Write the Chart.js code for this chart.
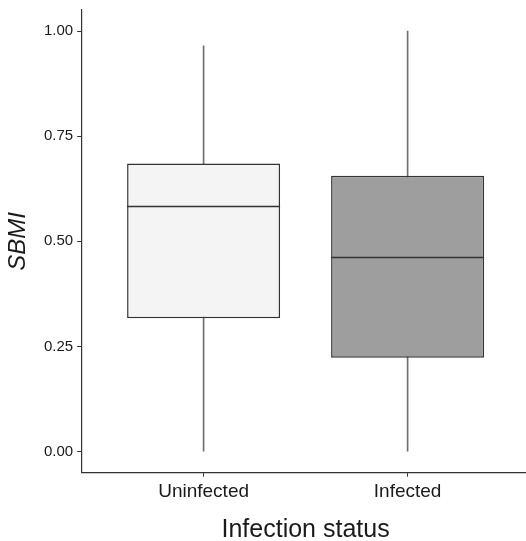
<!DOCTYPE html>
<html>
<head>
<meta charset="utf-8">
<script src="https://cdn.jsdelivr.net/npm/chart.js@4.4.1/dist/chart.umd.min.js"></script>
<style>
  html, body { margin: 0; padding: 0; overflow: hidden; background: #fff; }
  #wrap { width: 530px; height: 541px; }
</style>
</head>
<body>
<div id="wrap"><canvas id="boxChart"></canvas></div>
<script>
// boxplot stats
const groups = ["Uninfected", "Infected"];
const positions = [1, 2];
const whiskerLow = [0.0, 0.0];
const q1 = [0.317, 0.223];
const median = [0.583, 0.463];
const q3 = [0.685, 0.656];
const whiskerHigh = [0.965, 1.0];
const boxColors = ["#f4f4f4", "#9e9e9e"];
const yTicks = [0, 0.25, 0.5, 0.75, 1.0];

const FONT = "'Liberation Sans', Arial, sans-serif";

// median lines drawn on top of the boxes
const medianPlugin = {
  id: "medianLines",
  afterDatasetsDraw(chart) {
    const meta = chart.getDatasetMeta(0);
    const y = chart.scales.y;
    const ctx = chart.ctx;
    ctx.save();
    ctx.strokeStyle = "#333";
    ctx.lineWidth = 1.3;
    meta.data.forEach((bar, i) => {
      const py = Math.round(y.getPixelForValue(median[i])) + 0.5;
      ctx.beginPath();
      ctx.moveTo(bar.x - bar.width / 2, py);
      ctx.lineTo(bar.x + bar.width / 2, py);
      ctx.stroke();
    });
    ctx.restore();
  },
};

const ctx = document.getElementById("boxChart").getContext("2d");
new Chart(ctx, {
  type: "bar",
  data: {
    datasets: [
      {
        label: "box",
        data: positions.map((p, i) => ({ x: p, y: [q1[i], q3[i]] })),
        backgroundColor: boxColors,
        borderColor: "#333",
        borderWidth: 1.5,
        borderSkipped: false,
        grouped: false,
        categoryPercentage: 1,
        barPercentage: 0.75,
      },
      {
        label: "whisker",
        data: positions.map((p, i) => ({ x: p, y: [whiskerLow[i], whiskerHigh[i]] })),
        backgroundColor: "#707070",
        borderWidth: 0,
        grouped: false,
        barThickness: 1,
      },
    ],
  },
  options: {
    responsive: true,
    maintainAspectRatio: false,
    animation: false,
    layout: { padding: { top: 10, left: 6, right: 0, bottom: 0 } },
    plugins: {
      legend: { display: false },
      tooltip: { enabled: false },
    },
    scales: {
      x: {
        type: "linear",
        min: 0.4,
        max: 2.6,
        offset: false,
        afterBuildTicks: (axis) => {
          axis.ticks = positions.map((v) => ({ value: v }));
        },
        ticks: {
          autoSkip: false,
          maxRotation: 0,
          padding: 4,
          color: "#1a1a1a",
          font: { family: FONT, size: 19 },
          callback: (v) => groups[positions.indexOf(v)],
        },
        grid: { drawOnChartArea: false, offset: false, tickLength: 4, color: "#333" },
        border: { display: true, color: "#333", width: 1.2 },
        title: {
          display: true,
          text: "Infection status",
          color: "#1a1a1a",
          font: { family: FONT, size: 25, lineHeight: 0.9 },
          padding: { top: 11, bottom: 0 },
        },
      },
      y: {
        min: -0.05,
        max: 1.05,
        beginAtZero: false,
        afterBuildTicks: (axis) => {
          axis.ticks = yTicks.map((v) => ({ value: v }));
        },
        ticks: {
          padding: 4,
          color: "#1a1a1a",
          font: { family: FONT, size: 15, lineHeight: 0.8 },
          callback: (v) => v.toFixed(2),
        },
        grid: { drawOnChartArea: false, tickLength: 4, color: "#333" },
        border: { display: true, color: "#333", width: 1.2 },
        title: {
          display: true,
          text: "SBMI",
          color: "#1a1a1a",
          font: { family: FONT, size: 24, style: "italic", lineHeight: 1.0 },
          padding: { top: 0, bottom: 10 },
        },
      },
    },
  },
  plugins: [medianPlugin],
});
</script>
</body>
</html>
